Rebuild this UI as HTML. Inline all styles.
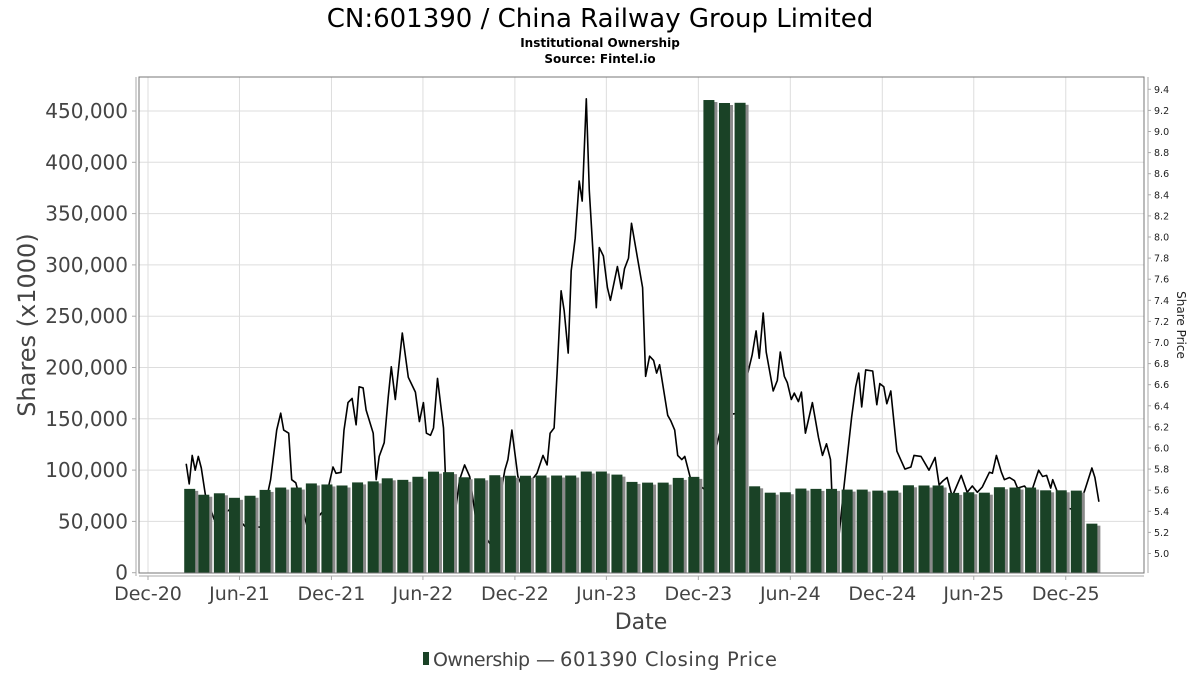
<!DOCTYPE html>
<html><head><meta charset="utf-8"><style>
html,body{margin:0;padding:0;background:#fff;}
svg{display:block;font-family:"DejaVu Sans","Liberation Sans",sans-serif;}
</style></head><body>
<svg id="chart" width="1200" height="675" viewBox="0 0 1200 675">
<text x="600" y="27" text-anchor="middle" font-size="26" fill="#000">CN:601390 / China Railway Group Limited</text>
<text x="600" y="47" text-anchor="middle" font-size="12" font-weight="bold" fill="#000">Institutional Ownership</text>
<text x="600" y="63" text-anchor="middle" font-size="12" font-weight="bold" fill="#000">Source: Fintel.io</text>
<g id="grid"></g>
<g id="line"></g>
<g id="bars"></g>
<rect x="139" y="77" width="1005" height="496" fill="none" stroke="#777" stroke-width="1"/>
<line x1="136" y1="77" x2="136" y2="576" stroke="#aaa"/>
<line x1="1148" y1="77" x2="1148" y2="573" stroke="#aaa"/>
<line x1="139" y1="576" x2="1144" y2="576" stroke="#aaa"/>
<g id="axes"></g>
<text transform="translate(35,325) rotate(-90)" text-anchor="middle" font-size="24" fill="#444">Shares (x1000)</text>
<text transform="translate(1177,325) rotate(90)" text-anchor="middle" font-size="12" fill="#222">Share Price</text>
<text x="641" y="629" text-anchor="middle" font-size="22" fill="#444">Date</text>
<g>
<rect x="423" y="652" width="6" height="13" fill="#1a4226"/>
<text x="433" y="666" font-size="19" fill="#444" textLength="97">Ownership</text>
<text x="536" y="666" font-size="19" fill="#444">—</text>
<text x="560" y="666" font-size="19.5" fill="#444" textLength="217">601390 Closing Price</text>
</g>
</svg>
<script>
const barMonths = ["2021-02","2021-03","2021-04","2021-05","2021-06","2021-07","2021-08","2021-09","2021-10","2021-11","2021-12","2022-01","2022-02","2022-03","2022-04","2022-05","2022-06","2022-07","2022-08","2022-09","2022-10","2022-11","2022-12","2023-01","2023-02","2023-03","2023-04","2023-05","2023-06","2023-07","2023-08","2023-09","2023-10","2023-11","2023-12","2024-01","2024-02","2024-03","2024-04","2024-05","2024-06","2024-07","2024-08","2024-09","2024-10","2024-11","2024-12","2025-01","2025-02","2025-03","2025-04","2025-05","2025-06","2025-07","2025-08","2025-09","2025-10","2025-11","2025-12","2026-01"];
const ownership = [81700,76000,77400,73000,75000,80700,83000,83000,87000,86000,85000,88000,89000,92000,90500,93500,98500,98000,93000,92000,95000,94500,94500,94700,94700,94700,98600,98600,95600,88500,87800,87800,92400,93400,460700,457800,458000,84200,78000,78400,82000,81700,81700,81000,81000,80000,80000,85200,85000,85000,77800,78400,78000,83300,83000,83000,80300,80300,80000,47800];
const priceDays = [76,82,88,94,100,106,114,132,164,194,224,244,256,264,270,280,286,294,318,348,368,374,384,390,398,406,414,420,428,434,448,454,460,470,478,484,492,506,518,532,540,548,554,562,568,576,588,594,604,620,630,640,654,684,710,716,724,736,748,774,786,794,800,808,814,822,828,836,842,850,858,864,872,878,892,898,906,914,920,934,942,948,956,962,974,984,990,998,1006,1012,1018,1034,1040,1048,1054,1062,1068,1080,1110,1146,1174,1202,1210,1216,1224,1230,1244,1252,1258,1266,1272,1280,1286,1294,1300,1308,1322,1334,1342,1350,1358,1364,1374,1384,1400,1408,1414,1420,1428,1442,1450,1456,1464,1470,1478,1490,1506,1518,1524,1538,1554,1566,1574,1582,1590,1600,1618,1630,1640,1650,1660,1674,1680,1688,1698,1704,1714,1724,1730,1744,1756,1772,1780,1788,1796,1800,1808,1818,1850,1864,1878,1884,1892];
const prices = [5.85,5.66,5.93,5.79,5.92,5.81,5.56,5.32,5.42,5.25,5.25,5.70,6.17,6.33,6.17,6.14,5.70,5.67,5.23,5.40,5.82,5.76,5.77,6.17,6.43,6.47,6.22,6.58,6.57,6.36,6.14,5.70,5.92,6.05,6.48,6.77,6.46,7.09,6.67,6.53,6.25,6.43,6.14,6.12,6.19,6.66,6.19,5.48,5.13,5.70,5.84,5.73,5.27,5.07,5.79,5.89,6.17,5.73,5.60,5.76,5.93,5.84,6.14,6.19,6.71,7.49,7.30,6.90,7.68,7.99,8.53,8.34,9.31,8.44,7.33,7.90,7.82,7.52,7.40,7.72,7.51,7.70,7.80,8.13,7.80,7.52,6.68,6.87,6.83,6.71,6.79,6.31,6.26,6.17,5.93,5.89,5.92,5.70,5.60,6.31,6.33,6.88,7.11,6.85,7.28,6.91,6.54,6.64,6.91,6.68,6.62,6.46,6.52,6.44,6.53,6.14,6.43,6.10,5.93,6.04,5.89,5.20,5.13,5.60,6.29,6.58,6.71,6.39,6.74,6.73,6.41,6.61,6.58,6.42,6.54,5.97,5.80,5.82,5.93,5.92,5.79,5.91,5.65,5.69,5.72,5.54,5.74,5.58,5.64,5.58,5.63,5.77,5.76,5.93,5.77,5.70,5.72,5.69,5.62,5.64,5.56,5.79,5.73,5.74,5.62,5.70,5.60,5.44,5.41,5.60,5.81,5.72,5.49];
const leftTicks = [0,50000,100000,150000,200000,250000,300000,350000,400000,450000];
const rightTicks = [5.0,5.2,5.4,5.6,5.8,6.0,6.2,6.4,6.6,6.8,7.0,7.2,7.4,7.6,7.8,8.0,8.2,8.4,8.6,8.8,9.0,9.2,9.4];
const xTickDates = ["2020-12-01","2021-06-01","2021-12-01","2022-06-01","2022-12-01","2023-06-01","2023-12-01","2024-06-01","2024-12-01","2025-06-01","2025-12-01"];
const xTickLabels = ["Dec-20","Jun-21","Dec-21","Jun-22","Dec-22","Jun-23","Dec-23","Jun-24","Dec-24","Jun-25","Dec-25"];

const NS="http://www.w3.org/2000/svg";
const origin = Date.UTC(2020,11,1);
function dayOf(s){const p=s.split("-").map(Number);return (Date.UTC(p[0],p[1]-1,p[2]||1)-origin)/86400000;}
function xScale(d){return 148 + d*0.5026;}
function yLeft(v){return 572.7 - v*(461.7/450000);}
function yRight(p){return 89.3 + (9.4-p)*105.5;}
function mk(tag,attrs,parent){const e=document.createElementNS(NS,tag);for(const k in attrs)e.setAttribute(k,attrs[k]);parent.appendChild(e);return e;}
const grid=document.getElementById("grid"),axes=document.getElementById("axes"),lineG=document.getElementById("line"),barsG=document.getElementById("bars");

leftTicks.forEach(v=>{
  const y=yLeft(v);
  if(v>0){const g=mk("line",{x1:139,x2:1144,y1:y,y2:y,stroke:"#ddd","stroke-width":1},grid);
  
  }
  const t=mk("line",{x1:132,x2:136,y1:y,y2:y,stroke:"#aaa"},axes);
  
  
  const l=mk("text",{x:128,y:y+7,"text-anchor":"end","font-size":20,fill:"#444"},axes);
  l.textContent=v.toLocaleString("en-US");
  
  
});
rightTicks.forEach(p=>{
  const y=yRight(p);
  const t=mk("line",{x1:1148,x2:1151,y1:y,y2:y,stroke:"#aaa"},axes);
  
  
  const l=mk("text",{x:1154,y:y+3.5,"font-size":9.5,fill:"#222"},axes);
  l.textContent=p.toFixed(1);
  
  
});
xTickDates.forEach((d,i)=>{
  const x=xScale(dayOf(d));
  const g=mk("line",{x1:x,x2:x,y1:77,y2:573,stroke:"#ddd"},grid);
  
  
  const t=mk("line",{x1:x,x2:x,y1:576,y2:580,stroke:"#aaa"},axes);
  
  
  const l=mk("text",{x:x,y:600,"text-anchor":"middle","font-size":19,fill:"#444"},axes);
  l.textContent=xTickLabels[i];
  
  
});
const pts=priceDays.map((d,i)=>xScale(d).toFixed(1)+","+yRight(prices[i]).toFixed(1)).join(" ");
const pl=mk("polyline",{points:pts,fill:"none",stroke:"#000","stroke-width":1.6,"stroke-linejoin":"round"},lineG);


barMonths.forEach((m,i)=>{
  const x=xScale(dayOf(m+"-23"));
  const y=yLeft(ownership[i]);
  const s=mk("rect",{x:x-3,y:y+2,width:11,height:573-y-2,fill:"#8a8a8a"},barsG);
  
  
  const b=mk("rect",{x:x-6,y:y,width:11,height:573-y,fill:"#1a4226"},barsG);
  
  
});
</script>
</body></html>
